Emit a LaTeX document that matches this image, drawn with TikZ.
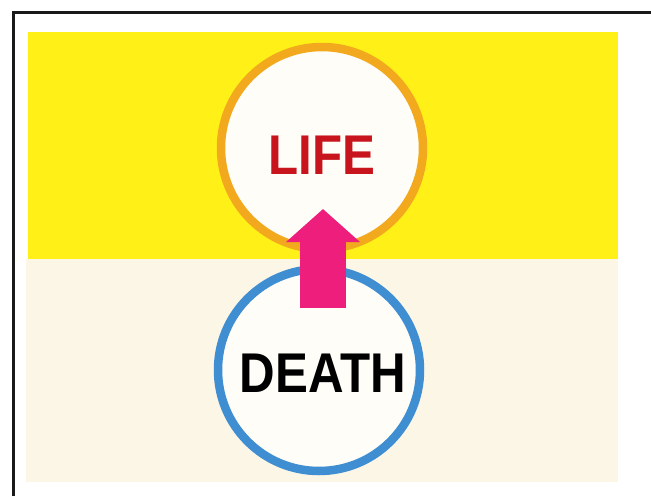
\documentclass[tikz,border=0pt]{standalone}
\usepackage{fontspec}
\setmainfont{Liberation Sans}
\newfontfamily\labelfont[FakeStretch=0.88]{Liberation Sans Bold}
\usetikzlibrary{arrows.meta}
\definecolor{bandyellow}{HTML}{FFF018}
\definecolor{bandcream}{HTML}{FCF6E6}
\definecolor{ringorange}{HTML}{F2A91E}
\definecolor{ringblue}{HTML}{3F8ED2}
\definecolor{arrowpink}{HTML}{EE1E7C}
\definecolor{lifered}{HTML}{C8141C}
\definecolor{discwhite}{HTML}{FEFDF8}
\tikzset{
  ring/.style={circle, minimum size=202pt, inner sep=0pt, line width=8.5pt, fill=discwhite},
  lifering/.style={ring, draw=ringorange},
  deathring/.style={ring, draw=ringblue},
  word/.style={inner sep=0pt, font=\labelfont\fontsize{56}{60}\selectfont},
  bigarrow/.style={draw=arrowpink, line width=46pt, line cap=butt,
    -{Triangle[length=33pt, width=72pt, fill=arrowpink]}},
  frameline/.style={draw=black!90, line width=3pt}
}
\begin{document}
\begin{tikzpicture}[x=1pt, y=-1pt]
  \useasboundingbox (0,0) rectangle (651,496);
  \fill[white] (0,0) rectangle (651,496);
  % frame
  \draw[frameline] (13,496) -- (13,12) -- (651,12);
  % bands
  \fill[bandcream] (26,259) rectangle (618,482);
  \fill[bandyellow] (28,32) rectangle (618,259);
  % circles
  \node[lifering] (life) at (322,148) {};
  \node[deathring] (death) at (319,370) {};
  % labels
  \node[word, text=lifered] (lifetext) at (322,155) {LIFE};
  \node[word, text=black] (deathtext) at (323,373) {DEATH};
  % arrow
  \coordinate (arrowfoot) at (death.center |- 0,308);
  \coordinate (arrowtip) at (323,209);
  \draw[bigarrow] (arrowfoot -| arrowtip) -- (arrowtip);
\end{tikzpicture}
\end{document}
